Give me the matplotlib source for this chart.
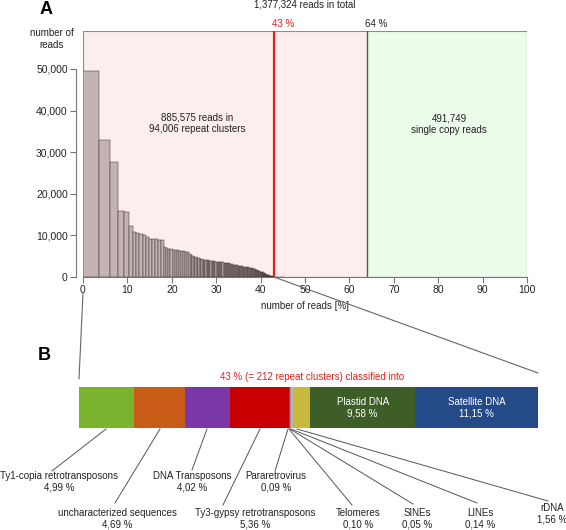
import numpy as np
import matplotlib.pyplot as plt
from matplotlib.patches import Rectangle, ConnectionPatch

plt.rcParams['font.family'] = ['Liberation Sans', 'DejaVu Sans']

W, H = 566, 530

# ---- data ----
total_reads = 1377324
repeat_pct = 43
single_pct = 64

# reads per repeat cluster (largest first)
cluster_reads = [49400, 32900, 27600, 15800, 15600, 12300, 10700, 10500, 10300, 10000,
                 9600, 9200, 9100, 9100, 9000, 8800, 7300, 7000, 6800, 6700,
                 6600, 6500, 6400, 6300, 6200, 6200, 6100, 5900, 5600, 5300,
                 5000, 4900, 4700, 4600, 4500, 4400, 4300, 4200, 4100, 4050,
                 4000, 4000, 3950, 3900, 3850, 3800, 3750, 3700, 3700, 3650,
                 3600, 3550, 3500, 3500, 3450, 3400, 3400, 3350, 3300, 3250,
                 3200, 3150, 3100, 3000, 2950, 2900, 2850, 2800, 2750, 2700,
                 2650, 2600, 2580, 2550, 2500, 2480, 2450, 2420, 2400, 2370,
                 2340, 2300, 2270, 2240, 2200, 2150, 2100, 2050, 2000, 1950,
                 1900, 1850, 1800, 1750, 1700, 1650, 1600, 1550, 1500, 1450, 1400]
# dense tail of small clusters: reads per cluster and number of such clusters
tail_reads = [1300, 1100, 900, 750, 600, 450, 330, 220, 140, 80, 60, 40]
tail_counts = [4, 5, 5, 5, 8, 10, 14, 18, 20, 18, 200, 500]

y_ticks = [0, 10000, 20000, 30000, 40000, 50000]
x_ticks = [0, 10, 20, 30, 40, 50, 60, 70, 80, 90, 100]

categories = ["Ty1-copia retrotransposons", "uncharacterized sequences", "DNA Transposons",
              "Ty3-gypsy retrotransposons", "Pararetrovirus", "Telomeres", "SINEs", "LINEs",
              "rDNA", "Plastid DNA", "Satellite DNA"]
class_pct = [4.99, 4.69, 4.02, 5.36, 0.09, 0.10, 0.05, 0.14, 1.56, 9.58, 11.15]
class_colors = ['#7ab42e', '#c95c19', '#7b37a5', '#c90000', '#5a5a5a', '#9a9a9a',
                '#3c3c3c', '#b4b4b4', '#c9b83e', '#3d5e26', '#244a88']


def pct_text(v):
    return f"{v:.2f}".replace('.', ',') + " %"


fig = plt.figure(figsize=(W / 100, H / 100), dpi=100)

# ---- panel A ----
ax = fig.add_axes([83 / W, (H - 277) / H, 444 / W, 246 / H])
ax.set_xlim(0, 100)
ax.set_ylim(0, 59100)

ax.axvspan(0, single_pct, color='#fdeeee', zorder=0)
ax.axvspan(single_pct, 100, color='#ebfcea', zorder=0)
ax.add_patch(Rectangle((0, 0), 100, 59100, fill=False, edgecolor='#8c8c8c', lw=0.8, zorder=1))

heights = np.array(cluster_reads + [r for r, c in zip(tail_reads, tail_counts) for _ in range(c)], float)
widths = heights / total_reads * 100
lefts = np.concatenate([[0], np.cumsum(widths)[:-1]])
ax.bar(lefts, heights, width=widths, align='edge', color='#c3b3b3',
       edgecolor='#3a2c2c', lw=0.35, zorder=2)

ax.axvline(repeat_pct, color='#e2201c', lw=1.6, zorder=3)
ax.axvline(single_pct, color='#555555', lw=1.0, zorder=3)

for side in ['top', 'right']:
    ax.spines[side].set_visible(False)
ax.spines['left'].set_bounds(0, 50000)
ax.spines['left'].set_position(('outward', 5))
ax.spines['bottom'].set_bounds(0, 100)
for side in ['left', 'bottom']:
    ax.spines[side].set_color('#777777')
    ax.spines[side].set_linewidth(0.8)

ax.set_yticks(y_ticks)
ax.set_yticklabels([f"{v:,}" for v in y_ticks])
ax.set_xticks(x_ticks)
ax.tick_params(axis='both', colors='#777777', labelcolor='#222222', labelsize=7.5,
               length=4, width=0.8, pad=2)
ax.set_xlabel("number of reads [%]", fontsize=7, color='#222222', labelpad=4)

ax.text(-0.07, 0.967, "number of\nreads", transform=ax.transAxes, ha='center', va='center',
        fontsize=7, color='#222222')

top_tr = ax.get_xaxis_transform()
ax.text(50, 1.106, f"{total_reads:,} reads in total", transform=top_tr,
        ha='center', va='center', fontsize=7, color='#222222')
ax.text(repeat_pct + 2, 1.028, f"{repeat_pct} %", transform=top_tr,
        ha='center', va='center', fontsize=7, color='#e2201c')
ax.text(single_pct + 2, 1.028, f"{single_pct} %", transform=top_tr,
        ha='center', va='center', fontsize=7, color='#222222')

ax.text(25.7, 36900, "885,575 reads in\n94,006 repeat clusters", ha='center', va='center',
        fontsize=7, color='#222222', zorder=4)
ax.text(82.5, 36800, "491,749\nsingle copy reads", ha='center', va='center',
        fontsize=7, color='#222222', zorder=4)

# ---- panel B ----
total_pct = sum(class_pct)
axb = fig.add_axes([79 / W, 0, 459 / W, 170 / H])
axb.set_xlim(0, total_pct)
axb.set_ylim(530, 360)
axb.axis('off')

seg_left = np.concatenate([[0], np.cumsum(class_pct)[:-1]])
axb.barh(407.5, class_pct, left=seg_left, height=41, color=class_colors, edgecolor='none')


def bx(px):
    return (px - 79) / 459 * total_pct


# text x, text y, line start x, line end x, line end y (pixels)
label_layout = {
    "Ty1-copia retrotransposons": (59, 481.5, 106, 52, 471),
    "uncharacterized sequences": (117, 518.5, 160, 115, 503),
    "DNA Transposons": (192, 481.5, 207, 192, 470),
    "Ty3-gypsy retrotransposons": (255, 518.5, 260, 223, 505),
    "Pararetrovirus": (276, 481.5, 288, 275, 471),
    "Telomeres": (358, 518.5, 289, 352, 505),
    "SINEs": (417, 518.5, 290, 413, 504),
    "LINEs": (480, 518.5, 291, 477, 503),
    "rDNA": (552, 513.5, 297, 548, 501),
}
for name, v in zip(categories, class_pct):
    if name in label_layout:
        tx, ty, sx, ex, ey = label_layout[name]
        axb.plot([bx(sx), bx(ex)], [429, ey], color='#555555', lw=0.7, clip_on=False)
        axb.text(bx(tx), ty, f"{name}\n{pct_text(v)}", ha='center', va='center',
                 fontsize=7, color='#222222', clip_on=False)

for name, v, l in zip(categories, class_pct, seg_left):
    if name in ("Plastid DNA", "Satellite DNA"):
        axb.text(l + v / 2, 408, f"{name}\n{pct_text(v)}", ha='center', va='center',
                 fontsize=7, color='white')

axb.text(bx(312), 377, f"{repeat_pct} % (= 212 repeat clusters) classified into",
         ha='center', va='center', fontsize=7, color='#e2201c')

# zoom lines from panel A to panel B
for xa, ya, xb, yb in [(0, -3850, 0, 379), (repeat_pct, 0, total_pct, 373)]:
    con = ConnectionPatch(xyA=(xa, ya), coordsA=ax.transData, xyB=(xb, yb), coordsB=axb.transData,
                          color='#666666', lw=0.8)
    fig.add_artist(con)

fig.text(46 / W, 1 - 10 / H, "A", ha='center', va='center', fontsize=13, fontweight='bold')
fig.text(44 / W, 1 - 355 / H, "B", ha='center', va='center', fontsize=13, fontweight='bold')

fig.savefig('out.png', dpi=100)
